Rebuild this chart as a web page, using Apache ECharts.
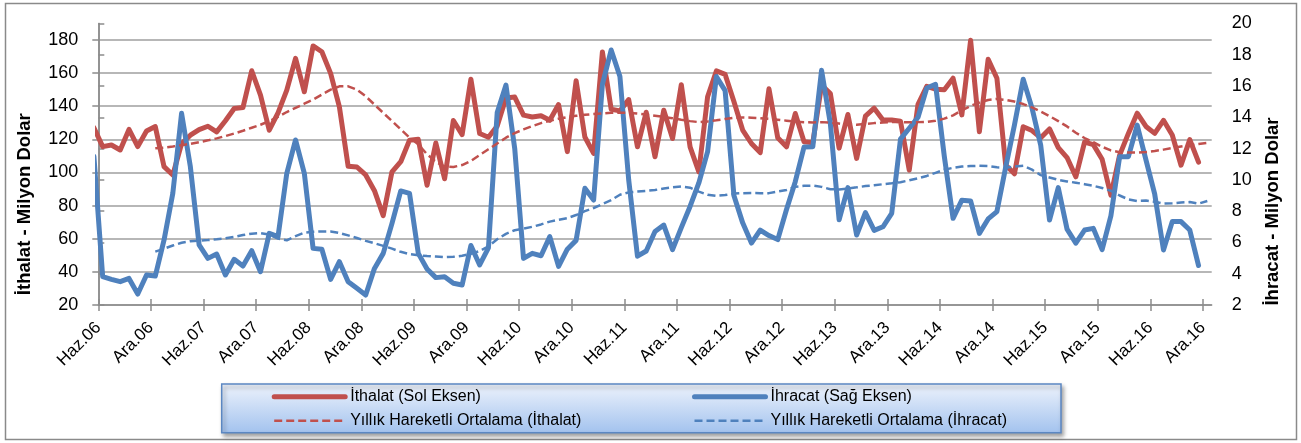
<!DOCTYPE html>
<html><head><meta charset="utf-8">
<script src="https://cdn.jsdelivr.net/npm/echarts@6/dist/echarts.min.js"></script>
<style>html,body{margin:0;padding:0;background:#fff}#c{width:1301px;height:443px}</style>
</head><body><div id="c"></div>
<script>
// x-axis tick labels, one every 6 months (month slots start at Haz.06)
const tickLabels = ["Haz.06","Ara.06","Haz.07","Ara.07","Haz.08","Ara.08","Haz.09","Ara.09",
  "Haz.10","Ara.10","Haz.11","Ara.11","Haz.12","Ara.12","Haz.13","Ara.13","Haz.14","Ara.14",
  "Haz.15","Ara.15","Haz.16","Ara.16"];
const leftTicks = [20,40,60,80,100,120,140,160,180];

// Monthly values, first value = May 2006 (one slot before Haz.06, clipped at the axis)
const ithalatStart = -1;
const ithalat = [127,115.6,116.6,113.6,126,115.6,125,127.7,103.5,98.5,
 117.4,122.5,125.9,127.9,124.5,131.2,138.6,139.2,161.4,146.7,
 125.5,136,149.7,168.9,148.7,176.4,172.9,159.8,139.6,103.7,
 103.3,98.5,89,74,100.4,106.5,119.5,120,92.3,117.8,
 96.2,131.4,122.8,156.3,123.5,121.3,128,145,145.5,134.6,
 133.5,134.2,131.5,141,112.6,155.4,121.4,111.5,172.8,138.2,
 137.2,144,115.5,136.4,109.5,137.6,120.5,153,115.5,100.4,
 145.7,161.3,159.2,142.8,125.6,117.5,112,150.5,121,115.5,
 135.6,118.5,118,152.8,147.7,114.7,135,108.5,134,138.8,
 131.7,131.7,131,101.4,141.2,152,150.3,150,156.9,134.8,
 179.8,124.6,168.3,156.9,104.5,99.2,127.6,125.3,121,126.3,
 115,109,97.4,118.3,116.8,108,86.3,110.5,123.6,135.8,
 127.8,123.6,131.5,122.6,104.4,119.8,106.2];
const ihracat = [11.5,3.81,3.64,3.49,3.7,2.7,3.92,3.85,6.16,9.14,
 14.25,10.84,5.84,4.98,5.26,3.92,4.92,4.49,5.47,4.13,
 6.58,6.37,10.42,12.55,10.42,5.62,5.56,3.64,4.77,3.49,
 3.07,2.64,4.34,5.3,7.22,9.29,9.14,5.3,4.3,3.75,
 3.8,3.39,3.28,5.8,4.56,5.65,14.3,16.06,12,4.98,
 5.3,5.15,6.37,4.47,5.57,6.13,9.46,8.71,16.1,18.3,
 16.6,10,5.12,5.45,6.7,7.11,5.54,6.95,8.3,9.8,
 11.8,16.6,15.7,9.0,7.25,5.96,6.79,6.44,6.18,8.1,
 9.88,12.1,12.12,17.0,13.6,7.45,9.5,6.47,7.9,6.77,
 7.0,7.86,12.6,13.3,14.0,15.87,16.1,11.5,7.54,8.7,
 8.65,6.58,7.5,7.97,10.8,13.5,16.43,14.6,12.2,7.43,
 9.5,6.85,5.96,6.79,6.9,5.54,7.7,11.48,11.48,13.5,
 11.27,9.08,5.52,7.33,7.33,6.79,4.52];

// Yearly moving averages, first value = Ara.06
const maStart = 6;
const maIthalat = [114.6,115,115.7,116.5,117.3,118.3,119.4,120.6,122,123.5,
 125.2,127,128.8,131,133.5,136.5,139,141.5,144,147,
 150,152,152,150,146,141,136,131,126,121,
 117,111,106.5,103.5,103.3,104.5,107,110.5,114,117.5,
 121,123.8,126,128,129.8,131.2,132.4,133.4,134.2,134.8,
 135.3,135.7,136,136.1,136,135.6,135,134.3,133.5,132.7,
 131.8,131,130.4,130.8,131.5,132.3,133,133.2,133.1,132.8,
 132.4,131.9,131.3,130.7,130.3,130.2,130.4,130,129.5,129,
 128.8,129.3,129.8,130.2,130.5,130.4,130.3,130.4,130.6,131.2,
 132.5,134.5,137.5,140.2,142.2,143.8,144.4,143.8,142.8,141.3,
 139.3,136.8,134,131,127.8,124,120.8,118.3,115.5,113.3,
 112.2,112,112,112.3,113,113.8,114.8,115.7,116.5,117.2,
 117.8];
const maIhracat = [5.41,5.6,5.8,5.98,6.08,6.12,6.15,6.2,6.26,6.35,
 6.47,6.56,6.6,6.5,6.25,6.13,6.4,6.62,6.68,6.7,
 6.7,6.6,6.45,6.28,6.1,5.95,5.78,5.6,5.4,5.25,
 5.18,5.13,5.1,5.06,5.08,5.15,5.28,5.45,5.75,6.2,
 6.55,6.78,6.88,7.0,7.15,7.33,7.45,7.55,7.75,8.0,
 8.2,8.45,8.7,9.05,9.2,9.25,9.3,9.35,9.45,9.52,
 9.58,9.5,9.25,9.05,8.98,9.03,9.12,9.15,9.16,9.15,
 9.15,9.25,9.35,9.55,9.62,9.63,9.55,9.4,9.38,9.45,
 9.52,9.6,9.65,9.72,9.78,9.85,9.97,10.1,10.25,10.45,
 10.65,10.77,10.85,10.88,10.9,10.88,10.8,10.78,10.85,10.9,
 10.65,10.3,10.15,10.0,9.9,9.82,9.72,9.62,9.48,9.3,
 9.0,8.75,8.65,8.68,8.6,8.48,8.5,8.55,8.58,8.48,
 8.65];

const nSlots = (tickLabels.length - 1) * 6 + 1; // Haz.06 .. Ara.16 month slots = 127
const tickValues = tickLabels.map((_, i) => i * 6);
const pts = (arr, start) => arr.map((v, i) => [start + i + 0.5, v]);

const RED = '#C0504D', BLUE = '#4F81BD', GRID = '#9f9f9f', AXIS = '#8c8c8c';
const FONT = '"Liberation Sans", Arial, sans-serif';
const names = ['İthalat (Sol Eksen)', 'İhracat (Sağ Eksen)',
  'Yıllık Hareketli Ortalama (İthalat)', 'Yıllık Hareketli Ortalama (İhracat)'];

const chart = echarts.init(document.getElementById('c'), null, {renderer: 'canvas'});
const legendCommon = {
  orient: 'vertical', padding: 0, itemGap: 8, itemWidth: 71, itemHeight: 14,
  selectedMode: false,
  itemStyle: {opacity: 0},
  lineStyle: {width: 'inherit'},
  textStyle: {fontFamily: FONT, fontSize: 16, color: '#000', lineHeight: 16}
};
chart.setOption({
  animation: false,
  backgroundColor: '#fff',
  grid: {left: 98.3, right: 89.3, top: 23.4, bottom: 138, containLabel: false},
  legend: [
    Object.assign({data: [names[0], names[2]], left: 271.7, top: 388.7}, legendCommon),
    Object.assign({data: [names[1], names[3]], left: 692, top: 388.7}, legendCommon)
  ],
  xAxis: [{
    type: 'value', min: 0, max: nSlots, position: 'bottom',
    axisLine: {show: true, lineStyle: {color: AXIS, width: 1.5}},
    axisTick: {show: true, customValues: tickValues, length: 6, lineStyle: {color: AXIS, width: 1.5}},
    axisLabel: {customValues: tickValues, rotate: 45, margin: 20,
      formatter: v => tickLabels[Math.round(v / 6)] || '',
      fontFamily: FONT, fontSize: 17, color: '#000'},
    splitLine: {show: false}
  }, {
    type: 'value', min: 0, max: nSlots, position: 'bottom',
    axisLine: {show: false},
    axisTick: {show: true, inside: true, customValues: tickValues, length: 6, lineStyle: {color: AXIS, width: 1.5}},
    axisLabel: {show: false},
    splitLine: {show: false}
  }],
  yAxis: [{
    type: 'value', min: 20, max: 190, interval: 20, position: 'left',
    axisLine: {show: true, lineStyle: {color: AXIS, width: 1.5}},
    axisTick: {show: true, customValues: leftTicks, length: 6, lineStyle: {color: AXIS, width: 1.5}},
    axisLabel: {customValues: leftTicks, margin: 20, fontFamily: FONT, fontSize: 18, color: '#000'},
    splitLine: {show: true, lineStyle: {color: GRID, width: 1.5}}
  }, {
    type: 'value', min: 2, max: 20, interval: 2, position: 'right',
    axisLine: {show: true, lineStyle: {color: AXIS, width: 1.5}},
    axisTick: {show: true, length: 6, lineStyle: {color: AXIS, width: 1.5}},
    axisLabel: {margin: 20, fontFamily: FONT, fontSize: 18, color: '#000'},
    splitLine: {show: false}
  }],
  graphic: [
    {type: 'rect', z: -10, shape: {x: 5.5, y: 3.5, width: 1291, height: 436},
      style: {fill: 'none', stroke: '#8a8a8a', lineWidth: 1.5}},
    {type: 'rect', z: 0, shape: {x: 221.7, y: 384, width: 839.3, height: 48.7},
      style: {
        fill: new echarts.graphic.LinearGradient(0, 0, 0, 1, [
          {offset: 0, color: '#eef3fc'}, {offset: 1, color: '#a2c2ee'}]),
        stroke: '#5b87c2', lineWidth: 1.5,
        shadowBlur: 4, shadowOffsetX: 2, shadowOffsetY: 3, shadowColor: 'rgba(0,0,0,0.35)'}},
    {type: 'text', x: 25.3, y: 204.2, rotation: Math.PI / 2,
      style: {text: 'İthalat - Milyon Dolar', font: 'bold 18.5px ' + FONT, fill: '#000',
        align: 'center', verticalAlign: 'middle'}},
    {type: 'text', x: 1272.5, y: 211.5, rotation: Math.PI / 2,
      style: {text: 'İhracat - Milyon Dolar', font: 'bold 18.5px ' + FONT, fill: '#000',
        align: 'center', verticalAlign: 'middle'}}
  ],
  series: [
    {name: names[0], type: 'line', yAxisIndex: 0, xAxisIndex: 0, symbol: 'none', clip: true,
      data: pts(ithalat, ithalatStart), color: RED,
      lineStyle: {color: RED, width: 5, cap: 'round', join: 'round'}},
    {name: names[1], type: 'line', yAxisIndex: 1, xAxisIndex: 0, symbol: 'none', clip: true,
      data: pts(ihracat, ithalatStart), color: BLUE,
      lineStyle: {color: BLUE, width: 5, cap: 'round', join: 'round'}},
    {name: names[2], type: 'line', yAxisIndex: 0, xAxisIndex: 0, symbol: 'none', clip: true,
      data: pts(maIthalat, maStart), color: RED,
      lineStyle: {color: RED, width: 2.5, type: [8, 4]}},
    {name: names[3], type: 'line', yAxisIndex: 1, xAxisIndex: 0, symbol: 'none', clip: true,
      data: pts(maIhracat, maStart), color: BLUE,
      lineStyle: {color: BLUE, width: 2.5, type: [8, 4]}}
  ]
});
</script></body></html>
